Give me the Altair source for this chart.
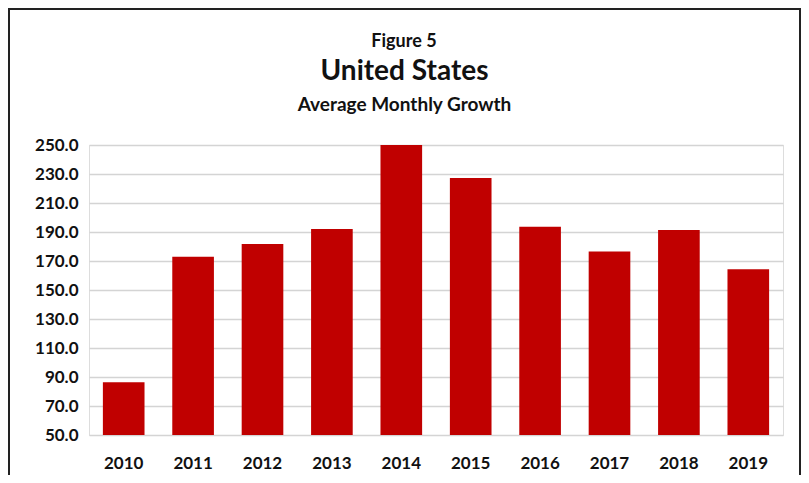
import altair as alt
import pandas as pd

years = ["2010", "2011", "2012", "2013", "2014", "2015", "2016", "2017", "2018", "2019"]
growth = [86.4, 173.0, 181.8, 192.0, 250.0, 227.2, 193.6, 176.6, 191.3, 164.3]
y_ticks = [50, 70, 90, 110, 130, 150, 170, 190, 210, 230, 250]
y_min, y_max = 50, 250
figure_label = "Figure 5"
title_text = "United States"
subtitle_text = "Average Monthly Growth"

FONT = "Lato"
W, H = 694, 290

df = pd.DataFrame({"year": years, "growth": growth})

bars = alt.Chart(df).mark_bar(color="#C00000").encode(
    x=alt.X("year:N", sort=years, title=None,
            scale=alt.Scale(paddingInner=0.4, paddingOuter=0.2),
            axis=alt.Axis(labelAngle=0, labelFont=FONT, labelFontSize=17,
                          labelFontWeight="bold", labelColor="#111111",
                          labelPadding=20, ticks=False, tickSize=0,
                          domain=False, grid=False)),
    y=alt.Y("growth:Q", title=None,
            scale=alt.Scale(domain=[y_min, y_max], zero=False, nice=False),
            axis=alt.Axis(values=y_ticks, format=".1f", labelFont=FONT,
                          labelFontSize=17, labelFontWeight="bold",
                          labelColor="#111111", labelPadding=11,
                          ticks=False, tickSize=0, domain=False,
                          grid=True, gridColor="#d4d4d4", gridWidth=1.5)),
    y2=alt.datum(y_min),
)

fig_df = pd.DataFrame({"label": [figure_label]})
fig_text = alt.Chart(fig_df).mark_text(
    font=FONT, fontSize=18, fontWeight="bold", color="#111111",
    align="center", baseline="alphabetic",
).encode(text="label:N", x=alt.value(315), y=alt.value(-98))

frame = alt.Chart(fig_df).mark_rect(
    fill=None, stroke="#222222", strokeWidth=2, clip=False,
).encode(x=alt.value(-80), x2=alt.value(711), y=alt.value(-136), y2=alt.value(345))

chart = alt.layer(bars, fig_text, frame).properties(
    width=W, height=H,
    padding={"left": 81, "top": 137, "right": 18, "bottom": 40},
    autosize=alt.AutoSizeParams(type="none"),
    title=alt.TitleParams(
        text=title_text, subtitle=subtitle_text,
        font=FONT, fontSize=28, fontWeight="bold", color="#111111",
        subtitleFont=FONT, subtitleFontSize=19, subtitleFontWeight="bold",
        subtitleColor="#111111", subtitlePadding=10,
        anchor="middle", frame="bounds", offset=-107,
    ),
).configure_view(stroke=None).configure(background="white")

chart.save("out.html", embed_options={"renderer": "svg", "actions": False})
